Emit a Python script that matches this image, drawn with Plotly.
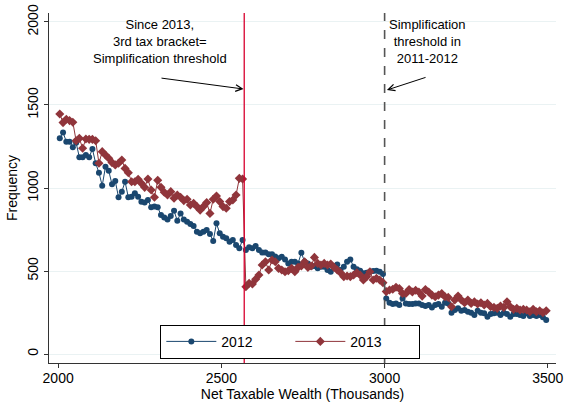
import plotly.graph_objects as go

# bin midpoints, net taxable wealth in thousands
wealth = list(range(2005, 3500, 10))

freq_2012 = [
    1299, 1335, 1279, 1279, 1245, 1273, 1185, 1185, 1199, 1185, 1235, 1149, 1092, 1014, 1128, 1104,
    1022, 1042, 944, 978, 1038, 944, 948, 968, 948, 917, 913, 927, 884, 888, 884, 837, 822,
    811, 831, 863, 803, 847, 811, 797, 783, 771, 737, 727, 737, 747, 723, 681, 787, 727, 707,
    697, 677, 687, 657, 637, 687, 627, 643, 637, 651, 627, 611, 611, 601, 601, 587, 577,
    586, 570, 546, 556, 556, 546, 610, 556, 546, 526, 530, 516, 526, 526, 506, 496, 530, 540,
    506, 526, 556, 570, 526, 510, 502, 486, 490, 496, 500, 502, 496, 482, 335, 309, 301, 305,
    295, 335, 305, 301, 301, 305, 305, 295, 289, 295, 281, 295, 301, 285, 309, 305,
    249, 265, 275, 261, 265, 255, 249, 235, 261, 249, 245, 225, 241, 245, 249, 235, 249, 241,
    225, 241, 241, 235, 229, 245, 229, 235, 229, 235, 221, 205,
]

freq_2013 = [
    1446, 1394, 1414, 1406, 1396, 1285, 1299, 1239, 1295, 1293, 1293, 1285, 1149, 1219, 1199, 1179,
    1153, 1139, 1149, 1169, 1118, 1092, 1038, 1038, 1052, 1028, 1004, 1054, 988, 944, 1046, 1004, 974,
    958, 978, 938, 958, 944, 924, 932, 898, 908, 888, 867, 888, 912, 847, 932, 952, 918, 888,
    878, 918, 928, 958, 1058, 1054,
    405, 426, 422, 450, 476, 536, 556, 506, 566, 556, 516, 506,
    496, 502, 516, 496, 522, 530, 556, 522, 530, 582, 546, 536, 546, 536, 542, 522, 506, 490,
    466, 470, 466, 476, 490, 476, 446, 466, 496, 446, 456, 446, 430,
    376, 386, 390, 402, 394,
    365, 365, 388, 374, 384, 374, 349, 388, 374, 355, 345, 355, 365, 345, 341, 285, 325, 349,
    325, 309, 325, 305, 315, 301, 309, 295, 305, 285, 281, 275, 289, 281, 315, 285, 269, 275,
    265, 269, 265, 255, 269, 255, 261, 249, 261,
]

threshold_2013 = 2570
threshold_2012 = 3000

fig = go.Figure()

fig.add_trace(go.Scatter(
    x=wealth, y=freq_2012, name="2012", mode="lines+markers",
    line=dict(color="#1a476f", width=1),
    marker=dict(symbol="circle", size=6, color="#1a476f"),
))
fig.add_trace(go.Scatter(
    x=wealth, y=freq_2013, name="2013", mode="lines+markers",
    line=dict(color="#90353b", width=1),
    marker=dict(symbol="diamond", size=7, color="#90353b"),
))

# threshold lines
fig.add_vline(x=threshold_2013, line=dict(color="#d8002e", width=1.3))
fig.add_vline(x=threshold_2012, line=dict(color="#555555", width=1.6, dash="dash"))

txt_font = dict(family="Liberation Sans, Arial", size=13, color="black")

fig.add_annotation(x=2312, y=2044, text="Since 2013,<br>3rd tax bracket=<br>Simplification threshold",
                   showarrow=False, font=txt_font, yanchor="top", align="center")
fig.add_annotation(x=3130, y=2044, text="Simplification<br>threshold in<br>2011-2012",
                   showarrow=False, font=txt_font, yanchor="top", align="center")

# arrows
fig.add_annotation(x=2568, y=1596, ax=2312, ay=1663, xref="x", yref="y", axref="x", ayref="y",
                   text="", showarrow=True, arrowhead=5, arrowsize=1.3, arrowwidth=1, arrowcolor="black")
fig.add_annotation(x=3007, y=1590, ax=3130, ay=1669, xref="x", yref="y", axref="x", ayref="y",
                   text="", showarrow=True, arrowhead=5, arrowsize=1.3, arrowwidth=1, arrowcolor="black")

fig.update_layout(
    width=564, height=403,
    margin=dict(l=49, r=8, t=13, b=40, autoexpand=False),
    paper_bgcolor="white", plot_bgcolor="white",
    font=dict(family="Liberation Sans, Arial", size=14, color="black"),
    showlegend=True,
    legend=dict(
        orientation="h", x=0.476, xanchor="center", y=0.012, yanchor="bottom",
        bgcolor="white", bordercolor="black", borderwidth=1,
        itemwidth=50, entrywidth=64, font=dict(size=14),
    ),
)

fig.update_xaxes(
    range=[1972, 3525], tickvals=[2000, 2500, 3000, 3500],
    showgrid=False, zeroline=False, automargin=False,
    showline=True, linecolor="#333333", linewidth=1,
    ticks="outside", ticklen=4, tickcolor="#333333", tickfont=dict(size=14),
    ticklabelstandoff=-2,
    title=dict(text="Net Taxable Wealth (Thousands)", standoff=3, font=dict(size=14)),
)
fig.update_yaxes(
    range=[-54, 2054], tickvals=[0, 500, 1000, 1500, 2000], tickangle=-90,
    showgrid=True, gridcolor="#eaf2f3", gridwidth=1, zeroline=False, automargin=False,
    showline=True, linecolor="#333333", linewidth=1,
    ticks="outside", ticklen=4, tickcolor="#333333", tickfont=dict(size=14),
    title=dict(text="Frequency", standoff=4, font=dict(size=14)),
)

fig.write_html("out.html", config={"displayModeBar": False},
               post_script="document.body.style.margin='0';")
